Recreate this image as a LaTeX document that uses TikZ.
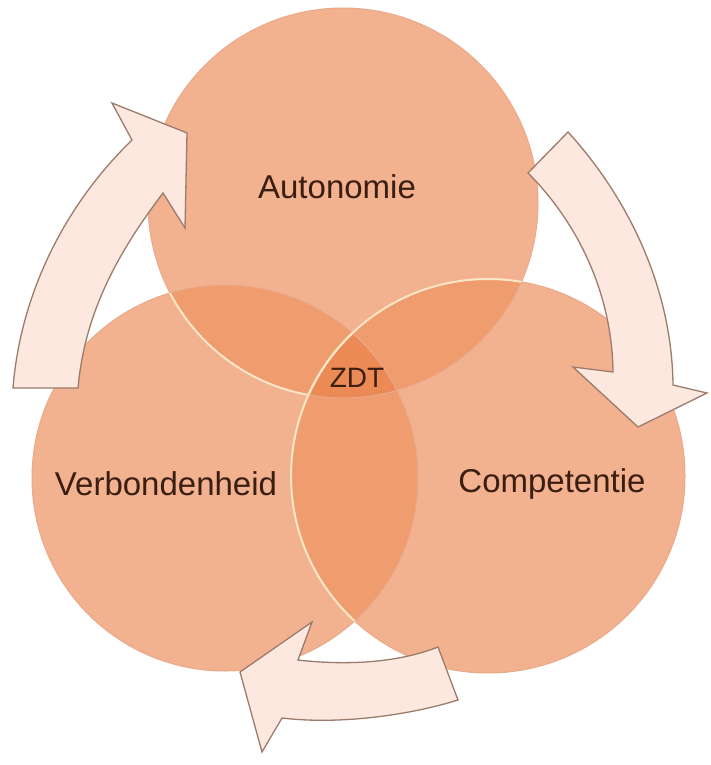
\documentclass[tikz,border=0pt]{standalone}
\usepackage{fontspec}
\setmainfont{Liberation Sans}
\begin{document}
\begin{tikzpicture}[x=1pt,y=-1pt,
  base/.style={fill=circbase},
  rim/.style={draw=circrim,line width=1pt},
  creamline/.style={draw=cream,line width=2pt},
  blockarrow/.style={fill=arrowfill,draw=arrowline,line width=1.3pt,line join=miter},
  lbl/.style={text=txt,anchor=base,inner sep=0pt,font=\fontsize{33}{40}\selectfont}]
\definecolor{circbase}{HTML}{F2B18F}
\definecolor{circpair}{HTML}{EF9C6F}
\definecolor{circtriple}{HTML}{EC8A56}
\definecolor{cream}{HTML}{FCE6C8}
\definecolor{circrim}{HTML}{EAAA8A}
\definecolor{arrowfill}{HTML}{FCE8DE}
\definecolor{arrowline}{HTML}{9C7B6C}
\definecolor{txt}{HTML}{3B1E12}
\useasboundingbox (0,0) rectangle (710,765);
\fill[white] (0,0) rectangle (710,765);
% circle centres
\coordinate (T) at (343,203);
\coordinate (L) at (225,478);
\coordinate (R) at (488,476);
\def\rT{195pt}\def\rL{193pt}\def\rR{197pt}
% base fills
\path[base] (L) circle[radius=\rL];
\path[base] (T) circle[radius=\rT];
\path[base] (R) circle[radius=\rR];
% pairwise overlaps
\begin{scope}\clip (T) circle[radius=\rT]; \fill[circpair] (L) circle[radius=\rL]; \fill[circpair] (R) circle[radius=\rR];\end{scope}
\begin{scope}\clip (L) circle[radius=\rL]; \fill[circpair] (R) circle[radius=\rR];\end{scope}
% triple
\begin{scope}\clip (T) circle[radius=\rT]; \clip (L) circle[radius=\rL]; \fill[circtriple] (R) circle[radius=\rR];\end{scope}
% outer rims
\draw[rim] (L) circle[radius=\rL];
\draw[rim] (T) circle[radius=\rT];
\draw[rim] (R) circle[radius=\rR];
% cream lines
\begin{scope}\clip (L) circle[radius=\rL]; \clip (0,0) rectangle (307,765); \draw[creamline] (T) circle[radius=\rT];\end{scope}
\begin{scope}\clip (L) circle[radius=\rL]; \draw[creamline] (R) circle[radius=\rR];\end{scope}
\begin{scope}\clip (T) circle[radius=\rT]; \draw[creamline] (R) circle[radius=\rR];\end{scope}
% arrows
\path[blockarrow] (13,388) -- (78,388) .. controls (85,310) and (120,250) .. (163,193)
  -- (185,228) -- (187,133) -- (112,103) -- (132,140)
  .. controls (60,210) and (20,300) .. (13,388) -- cycle;
\path[blockarrow] (528,173) -- (568,132) .. controls (630,200) and (672,290) .. (673,385)
  -- (707,393) -- (638,427) -- (573,367) -- (613,372)
  .. controls (612,290) and (575,220) .. (528,173) -- cycle;
\path[blockarrow] (312,622) -- (298,660) .. controls (350,666) and (400,662) .. (438,647)
  -- (458,700) .. controls (410,715) and (340,725) .. (282,718)
  -- (262,752) -- (240,672) -- cycle;
% labels
\node[lbl] (auto) at (337,198) {Autonomie};
\node[lbl] (verb) at (166,495) {Verbondenheid};
\node[lbl] (comp) at (552,492) {Competentie};
\node[lbl,font=\fontsize{28}{34}\selectfont] (zdt) at (357,387) {ZDT};
\end{tikzpicture}
\end{document}
